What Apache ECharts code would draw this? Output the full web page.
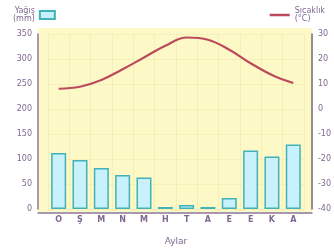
<!DOCTYPE html>
<html>
<head>
<meta charset="utf-8">
<script src="https://cdn.jsdelivr.net/npm/echarts@6/dist/echarts.min.js"></script>
<style>
  html, body { margin: 0; padding: 0; background: #fff; }
  #chart { width: 334px; height: 251px; }
</style>
</head>
<body>
<div id="chart"></div>
<script>
// aylar (Ocak ... Aralık)
var months = ['O', 'Ş', 'M', 'N', 'M', 'H', 'T', 'A', 'E', 'E', 'K', 'A'];
var rainfall = [112, 98, 82, 68, 63, 4, 8, 4, 22, 117, 105, 129];
var temperature = [8.1, 8.9, 11.6, 15.9, 20.6, 25.3, 28.6, 27.7, 23.7, 18.3, 13.6, 10.4];
var rainTicks = [0, 350, 50];
var tempTicks = [-40, 30, 10];

var labelColor = '#7f6890';
var faint = 'rgba(228,220,160,0.3)';

var chart = echarts.init(document.getElementById('chart'));
chart.setOption({
    animation: false,
    textStyle: { fontFamily: 'DejaVu Sans' },
    legend: [{
        data: ['Yağış'],
        left: 8,
        top: 2,
        align: 'right',
        icon: 'rect',
        itemWidth: 15,
        itemHeight: 8,
        itemGap: 4,
        formatter: function (name) { return name + '\n(mm)'; },
        textStyle: { fontSize: 8, color: labelColor, lineHeight: 8, align: 'center' }
    }, {
        data: ['Sıcaklık'],
        right: 4,
        top: 2,
        icon: 'rect',
        itemWidth: 20,
        itemHeight: 2.5,
        itemGap: 4,
        formatter: function (name) { return name + '\n(°C)'; },
        textStyle: { fontSize: 8, color: labelColor, lineHeight: 8, align: 'center' }
    }],
    grid: [{
        left: 48, right: 30, top: 34, bottom: 38
    }, {
        left: 38, right: 22, top: 28, bottom: 38,
        show: true, backgroundColor: '#fdf9c6', borderWidth: 0, z: -1
    }],
    xAxis: [{
        type: 'category',
        gridIndex: 0,
        data: months,
        axisLine: { show: false },
        axisTick: { show: false },
        splitLine: { show: true, lineStyle: { color: faint, width: 1 } },
        axisLabel: { color: labelColor, fontSize: 8, fontWeight: 'bold', margin: 7 },
        name: 'Aylar',
        nameLocation: 'middle',
        nameGap: 28,
        nameTextStyle: { color: labelColor, fontSize: 9 }
    }, {
        type: 'value',
        gridIndex: 1,
        min: 0, max: 1,
        axisLine: { show: true, lineStyle: { color: '#8a78a0', width: 1.5 } },
        axisTick: { show: false },
        axisLabel: { show: false },
        splitLine: { show: false }
    }],
    yAxis: [{
        type: 'value',
        gridIndex: 0,
        position: 'left',
        offset: 10,
        min: rainTicks[0], max: rainTicks[1], interval: rainTicks[2],
        axisLine: { show: true, lineStyle: { color: '#8a78a0', width: 1.5 } },
        axisTick: { show: false },
        axisLabel: { color: labelColor, fontSize: 8, margin: 6 },
        splitLine: { show: true, lineStyle: { color: faint } }
    }, {
        type: 'value',
        gridIndex: 0,
        position: 'right',
        offset: 8,
        min: tempTicks[0], max: tempTicks[1], interval: tempTicks[2],
        axisLine: { show: true, lineStyle: { color: '#6f6a70', width: 1.5 } },
        axisTick: { show: false },
        axisLabel: { color: labelColor, fontSize: 8, margin: 6 },
        splitLine: { show: false }
    }, {
        type: 'value',
        gridIndex: 1,
        show: false
    }],
    series: [{
        name: 'Yağış',
        type: 'bar',
        xAxisIndex: 0,
        yAxisIndex: 0,
        data: rainfall,
        barWidth: 15,
        itemStyle: { color: '#c9f1fb', borderColor: '#3fb2ba', borderWidth: 1.5 }
    }, {
        name: 'Sıcaklık',
        type: 'line',
        xAxisIndex: 0,
        yAxisIndex: 1,
        data: temperature,
        smooth: 0.4,
        symbol: 'none',
        lineStyle: { color: '#bb4a5c', width: 2.2 },
        itemStyle: { color: '#bb4a5c' }
    }]
});
</script>
</body>
</html>
